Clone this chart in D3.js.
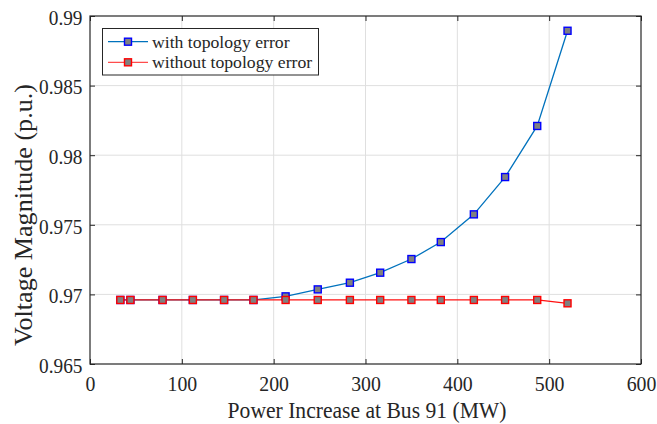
<!DOCTYPE html>
<html><head><meta charset="utf-8">
<script src="https://cdn.jsdelivr.net/npm/d3@7"></script>
<style>body{margin:0;background:#fff;} svg{display:block;} svg text{font-family:"Liberation Serif","Times New Roman",serif !important;fill:#262626;}</style>
</head><body>
<svg id="c" width="657" height="424"></svg>
<script>
const power = [33, 44, 79, 112, 146, 178, 213, 248, 283, 316, 350, 382, 418, 452, 487, 520];
const withErr = [0.9696, 0.9696, 0.9696, 0.9696, 0.9696, 0.9696, 0.96986, 0.97036, 0.97084, 0.97156, 0.97254, 0.97376, 0.97575, 0.97843, 0.9821, 0.98894];
const withoutErr = [0.9696, 0.9696, 0.9696, 0.9696, 0.9696, 0.9696, 0.9696, 0.9696, 0.9696, 0.9696, 0.9696, 0.9696, 0.9696, 0.9696, 0.9696, 0.96936];
const xTicks = [0, 100, 200, 300, 400, 500, 600];
const yTicks = [0.965, 0.97, 0.975, 0.98, 0.985, 0.99];
const seriesNames = ["with topology error", "without topology error"];

const FONT = '"Liberation Serif", "Times New Roman", serif';
const SY = 1.07; // slight vertical stretch of the original picture
const svg = d3.select("#c");
const L = 90, R = 641, T = 16, B = 364;
const x = d3.scaleLinear().domain([0, 600]).range([L, R]);
const y = d3.scaleLinear().domain([0.965, 0.99]).range([B, T]);

// grid
svg.append("g").selectAll("line").data(xTicks.slice(1, -1)).join("line")
  .attr("x1", d => x(d)).attr("x2", d => x(d)).attr("y1", T).attr("y2", B)
  .attr("stroke", "#dfdfdf").attr("stroke-width", 1);
svg.append("g").selectAll("line").data(yTicks.slice(1, -1)).join("line")
  .attr("y1", d => y(d)).attr("y2", d => y(d)).attr("x1", L).attr("x2", R)
  .attr("stroke", "#dfdfdf").attr("stroke-width", 1);

// axes
const ax = d3.axisBottom(x).tickValues(xTicks).tickSizeInner(-5).tickSizeOuter(0);
const gx = svg.append("g").attr("transform", `translate(0,${B})`).call(ax);
gx.selectAll(".tick text").attr("y", null).attr("dy", null)
  .attr("transform", `translate(0,27) scale(1,${SY})`).attr("font-size", 19.8);
const ay = d3.axisLeft(y).tickValues(yTicks).tickFormat(d => String(+d.toFixed(3))).tickSizeInner(-5).tickSizeOuter(0);
const gy = svg.append("g").attr("transform", `translate(${L},0)`).call(ay);
gy.selectAll(".tick text").attr("x", null).attr("dy", null)
  .attr("transform", `translate(-7.5,8.2) scale(1,${SY})`).attr("font-size", 19.3);
const axt = d3.axisTop(x).tickValues(xTicks).tickSizeInner(-5).tickSizeOuter(0).tickFormat("");
svg.append("g").attr("transform", `translate(0,${T})`).call(axt);
const ayr = d3.axisRight(y).tickValues(yTicks).tickSizeInner(-5).tickSizeOuter(0).tickFormat("");
svg.append("g").attr("transform", `translate(${R},0)`).call(ayr);
svg.selectAll(".domain").remove();
svg.selectAll("g").attr("font-family", FONT);
svg.selectAll(".tick line").attr("stroke", "#262626");
svg.selectAll(".tick text").style("font-family", FONT).attr("fill", "#262626");
svg.append("rect").attr("x", L).attr("y", T).attr("width", R - L).attr("height", B - T)
  .attr("fill", "none").attr("stroke", "#262626").attr("stroke-width", 1.2);

// lines
const line = d3.line().x(d => x(d[0])).y(d => y(d[1]));
const s1 = power.map((p, i) => [p, withErr[i]]);
const s2 = power.map((p, i) => [p, withoutErr[i]]);
svg.append("path").datum(s1).attr("d", line).attr("fill", "none").attr("stroke", "#0072BD").attr("stroke-width", 1.3);
svg.append("path").datum(s2).attr("d", line).attr("fill", "none").attr("stroke", "#ff1010").attr("stroke-width", 1.3);
function markers(data, col) {
  svg.append("g").selectAll("rect").data(data).join("rect")
    .attr("x", d => x(d[0]) - 3.5).attr("y", d => y(d[1]) - 3.5).attr("width", 7).attr("height", 7)
    .attr("fill", "#808080").attr("stroke", col).attr("stroke-width", 1.4);
}
markers(s1, "#0000ff");
markers(s2, "#ff0000");

// axis labels
svg.append("text").attr("transform", `translate(${(L + R) / 2 + 1.5},418) scale(1,${SY})`).attr("text-anchor", "middle")
  .style("font-family", FONT).attr("font-size", 21.6).text("Power Increase at Bus 91 (MW)");
svg.append("text").attr("transform", `translate(32,215) rotate(-90) scale(${SY},1)`).attr("text-anchor", "middle")
  .style("font-family", FONT).attr("font-size", 24.4).text("Voltage Magnitude (p.u.)");

// legend
const lg = svg.append("g");
lg.append("rect").attr("x", 102.5).attr("y", 28.5).attr("width", 216).attr("height", 46.5)
  .attr("fill", "#fff").attr("stroke", "#262626").attr("stroke-width", 1);
const lcols = [["#0072BD", "#0000ff"], ["#ff4d4d", "#ff0000"]];
seriesNames.forEach((n, i) => {
  const yy = 41.7 + i * 20.6;
  lg.append("line").attr("x1", 108).attr("x2", 148).attr("y1", yy).attr("y2", yy).attr("stroke", lcols[i][0]).attr("stroke-width", 1.3);
  lg.append("rect").attr("x", 124.5).attr("y", yy - 3.5).attr("width", 7).attr("height", 7)
    .attr("fill", "#808080").attr("stroke", lcols[i][1]).attr("stroke-width", 1.4);
  lg.append("text").attr("x", 152).attr("y", yy + 6)
    .style("font-family", FONT).attr("font-size", 17.7).text(n);
});
</script>
</body></html>
